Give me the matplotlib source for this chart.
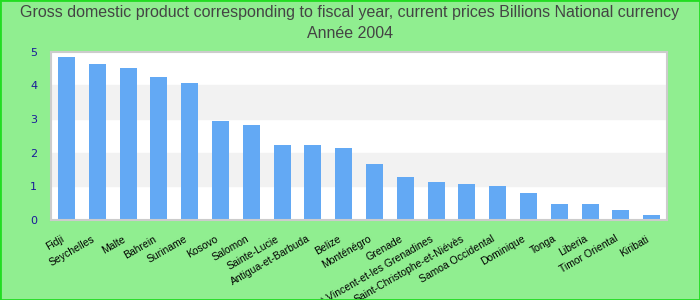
#!/usr/bin/env python3
# GDP for fiscal year, bar chart by country (2004)
import matplotlib
matplotlib.use("Agg")
import matplotlib.pyplot as plt
import matplotlib.transforms as mtransforms
from matplotlib.patches import Rectangle

countries = [
    "Fidji", "Seychelles", "Malte", "Bahrein", "Suriname", "Kosovo",
    "Salomon", "Sainte-Lucie", "Antigua-et-Barbuda", "Belize", "Monténégro",
    "Grenade", "Saint-Vincent-et-les Grenadines", "Saint-Christophe-et-Niévès",
    "Samoa Occidental", "Dominique", "Tonga", "Liberia", "Timor Oriental",
    "Kiribati",
]
gdp = [
    4.85, 4.63, 4.51, 4.24, 4.07, 2.94, 2.82, 2.23, 2.22, 2.14, 1.66,
    1.28, 1.13, 1.07, 1.01, 0.80, 0.47, 0.47, 0.30, 0.15,
]
y_ticks = [0, 1, 2, 3, 4, 5]

title = ("Gross domestic product corresponding to fiscal year, current prices "
         "Billions National currency\nAnnée 2004")

fig = plt.figure(figsize=(7, 3), dpi=100, facecolor="#90ee90")
# green frame round the whole picture
fig.patches.append(Rectangle((0, 0), 1, 1, transform=fig.transFigure,
                             fill=False, edgecolor="#22dd22", linewidth=2))

ax = fig.add_axes([0.073, 0.267, 0.880, 0.561])
ax.set_facecolor("white")

# alternating grey bands
for lo in (1, 3):
    ax.axhspan(lo, lo + 1, color="#f2f2f2", zorder=0)

x = range(len(countries))
ax.bar(x, gdp, width=0.55, color="#63a9f4", zorder=2)

ax.set_xlim(-0.5, len(countries) - 0.5)
ax.set_ylim(0, 5)
ax.set_yticks(y_ticks)
ax.set_xticks(list(x))
ax.set_xticklabels(countries, rotation=30, ha="right", rotation_mode="anchor",
                   fontsize=7.5, family=["Liberation Sans", "DejaVu Sans"])
ax.tick_params(axis="x", length=0, pad=10)
ax.tick_params(axis="y", length=0, pad=10, labelsize=8, labelcolor="#1a1a99")

# nudge the rotated labels a little to the left, like the original
shift = mtransforms.ScaledTranslation(-6 / 100, 0, fig.dpi_scale_trans)
for lab in ax.get_xticklabels():
    lab.set_transform(lab.get_transform() + shift)

for side in ax.spines.values():
    side.set_color("#cccccc")
    side.set_linewidth(1.5)

fig.text(0.5, 0.985, title, ha="center", va="top", color="#444444",
         fontsize=11.5, linespacing=1.5,
         family=["Liberation Sans Narrow", "Liberation Sans", "DejaVu Sans"])

fig.savefig("out.png", dpi=100, facecolor=fig.get_facecolor())
plt.close(fig)
